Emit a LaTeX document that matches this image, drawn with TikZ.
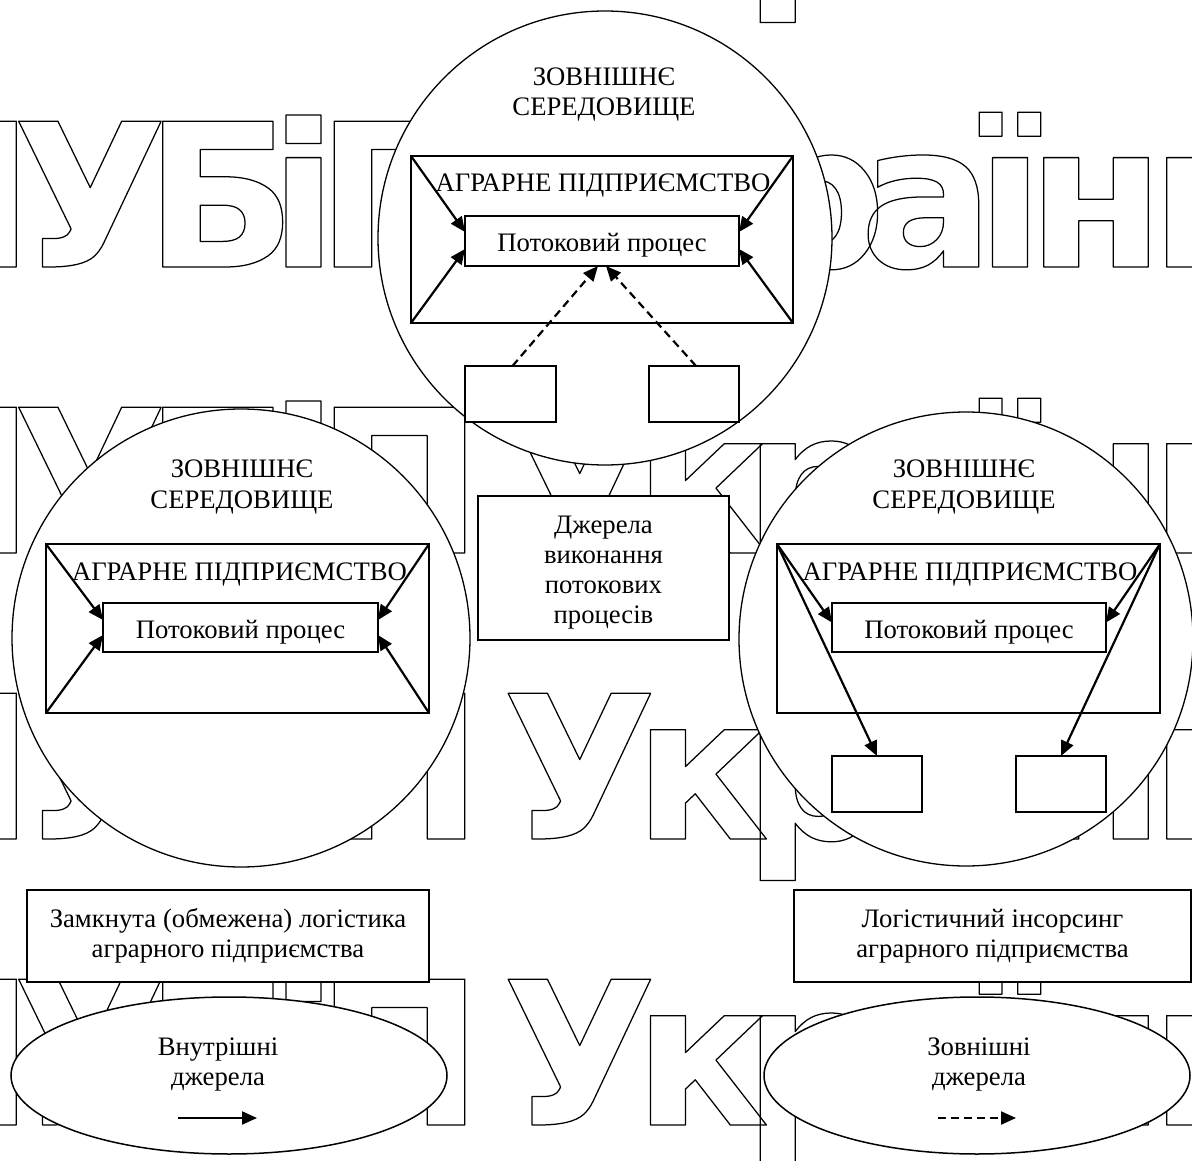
\documentclass[tikz,border=0pt]{standalone}
\usepackage{fontspec}
\setmainfont{Liberation Serif}
\newfontfamily\wmfont{DejaVu Sans}
\usetikzlibrary{arrows.meta,calc,shapes.geometric}

% stroked, unfilled glyphs for the background lettering
\newcommand\hollowtext[1]{\special{pdf:literal direct 1 Tr 1.25 w 1 j}#1\special{pdf:literal direct 0 Tr}}

\tikzset{
  wm/.style={font=\wmfont\bfseries\fontsize{200}{200}\selectfont, anchor=base, inner sep=0pt},
  txt/.style={font=\fontsize{26.7}{30}\selectfont, inner sep=0pt},
  envcircle/.style={circle, draw, line width=1.3pt, fill=white, inner sep=0pt, outer sep=0pt},
  firmbox/.style={rectangle, draw, line width=1.7pt, inner sep=0pt, outer sep=0pt},
  procbox/.style={rectangle, draw, line width=1.7pt, fill=white, inner sep=0pt, outer sep=0pt,
    minimum width=274pt, minimum height=50pt, text height=22pt, text depth=0pt,
    font=\fontsize{26.7}{30}\selectfont},
  srcbox/.style={rectangle, draw, line width=1.7pt, fill=white, inner sep=0pt, outer sep=0pt,
    minimum width=90pt, minimum height=56pt},
  notebox/.style={rectangle, draw, line width=1.7pt, fill=white, inner sep=0pt, outer sep=0pt,
    align=center, font=\fontsize{26.7}{30}\selectfont},
  srcellipse/.style={ellipse, draw, line width=1.5pt, fill=white, inner sep=0pt, outer sep=0pt},
  solidflow/.style={line width=2.2pt, -{Triangle[length=15pt,width=13pt]}},
  dashflow/.style={solidflow, dash pattern=on 8pt off 5pt},
}

\begin{document}
\begin{tikzpicture}[x=1pt,y=-1pt]
\useasboundingbox (0,0) rectangle (1192,1161);

% background lettering, repeated in rows
\node[wm] (wm-0-8) at (815,-19) {\hollowtext{р}};
\foreach \row/\yb in {1/267,2/553,3/839,4/1125}{
  \foreach \k/\xc/\ch in {1/-49/Н,2/90/У,3/220.5/Б,4/303.5/і,5/399.5/П,
                          6/579.5/У,7/701.5/к,8/815/р,9/927/а,10/1010/ї,11/1096/н,12/1220/и}{
    \node[wm] (wm-\row-\k) at (\xc,\yb) {\hollowtext{\ch}};
  }
}

% ---------- environment circles ----------
\node[envcircle, minimum size=454pt] (envT) at (605,238) {};
\node[envcircle, minimum size=458pt] (envL) at (241,638) {};
\node[envcircle, minimum size=454pt] (envR) at (966,639) {};

\node[txt, anchor=base] (envT1) at (604,86) {ЗОВНІШНЄ};
\node[txt, anchor=base] (envT2) at (604,116) {СЕРЕДОВИЩЕ};
\node[txt, anchor=base] (envL1) at (242,477) {ЗОВНІШНЄ};
\node[txt, anchor=base] (envL2) at (242,508) {СЕРЕДОВИЩЕ};
\node[txt, anchor=base] (envR1) at (964,477) {ЗОВНІШНЄ};
\node[txt, anchor=base] (envR2) at (964,508) {СЕРЕДОВИЩЕ};

% ---------- enterprise frames ----------
\node[firmbox, minimum width=382pt, minimum height=167pt] (firmT) at (602,239.5) {};
\node[firmbox, minimum width=383pt, minimum height=169pt] (firmL) at (237.5,628.5) {};
\node[firmbox, minimum width=383pt, minimum height=169pt] (firmR) at (968.5,628.5) {};

\node[txt, anchor=base] (firmTtxt) at (603,192) {АГРАРНЕ ПІДПРИЄМСТВО};
\node[txt, anchor=base] (firmLtxt) at (239.5,580) {АГРАРНЕ ПІДПРИЄМСТВО};
\node[txt, anchor=base] (firmRtxt) at (970,580) {АГРАРНЕ ПІДПРИЄМСТВО};

% ---------- flow processes ----------
\node[procbox] (procT) at (602,241) {Потоковий процес};
\node[procbox, minimum width=275pt, minimum height=49pt] (procL) at (240.5,627.5) {Потоковий процес};
\node[procbox, minimum height=49pt] (procR) at (969,627.5) {Потоковий процес};

% ---------- outside source boxes ----------
\node[srcbox, minimum width=91pt] (srcTL) at (510.5,394) {};
\node[srcbox] (srcTR) at (694,394) {};
\node[srcbox] (srcRL) at (877,784) {};
\node[srcbox] (srcRR) at (1061,784) {};

% ---------- closed logistics: internal sources ----------
\draw[solidflow] (firmL.north west) -- ($(procL.west)+(0,-7.5)$);
\draw[solidflow] (firmL.south west) -- ($(procL.west)+(0,7.5)$);
\draw[solidflow] (firmL.north east) -- ($(procL.east)+(0,-7.5)$);
\draw[solidflow] (firmL.south east) -- ($(procL.east)+(0,7.5)$);

% ---------- mixed case ----------
\draw[solidflow] (firmT.north west) -- ($(procT.west)+(0,-9)$);
\draw[solidflow] (firmT.south west) -- ($(procT.west)+(0,8)$);
\draw[solidflow] (firmT.north east) -- ($(procT.east)+(0,-9)$);
\draw[solidflow] (firmT.south east) -- ($(procT.east)+(0,8)$);
\draw[dashflow] ($(srcTL.north)+(2,0)$) -- ($(procT.south)+(-4,0)$);
\draw[dashflow] ($(srcTR.north)+(2,0)$) -- ($(procT.south)+(4,0)$);

% ---------- insourcing ----------
\draw[solidflow] (firmR.north west) -- ($(procR.west)+(0,-5)$);
\draw[solidflow] (firmR.north west) -- (srcRL.north);
\draw[solidflow] (firmR.north east) -- ($(procR.east)+(0,-5)$);
\draw[solidflow] (firmR.north east) -- (srcRR.north);

% ---------- central caption ----------
\node[notebox, minimum width=251pt, minimum height=144pt] (sources) at (603.5,568)
  {\rule{0pt}{27pt}Джерела\\виконання\\потокових\\процесів};

% ---------- captions ----------
\node[notebox, minimum width=402pt, minimum height=92pt] (noteL) at (228,936)
  {Замкнута (обмежена) логістика\\аграрного підприємства};
\node[notebox, minimum width=397pt, minimum height=92pt] (noteR) at (992.5,936)
  {Логістичний інсорсинг\\аграрного підприємства};

% ---------- legend ----------
\node[srcellipse, minimum width=436pt, minimum height=157pt] (inL) at (229,1075.5) {};
\node[srcellipse, minimum width=426pt, minimum height=157pt] (exR) at (977,1075.5) {};

\node[txt, anchor=base] (inL1) at (218,1055) {Внутрішні};
\node[txt, anchor=base] (inL2) at (218,1085) {джерела};
\node[txt, anchor=base] (exR1) at (979,1055) {Зовнішні};
\node[txt, anchor=base] (exR2) at (979,1085) {джерела};

\coordinate (legLa) at (178,1118);
\coordinate (legLb) at (257,1118);
\coordinate (legRa) at (938,1118);
\coordinate (legRb) at (1016,1118);
\draw[solidflow] (legLa) -- (legLb);
\draw[dashflow] (legRa) -- (legRb);

\end{tikzpicture}
\end{document}
